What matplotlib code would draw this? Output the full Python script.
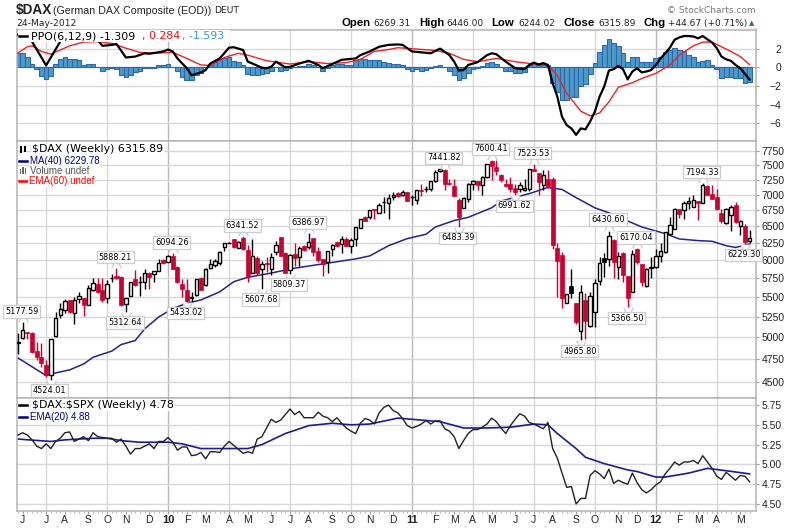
import matplotlib
matplotlib.use('Agg')
import matplotlib.pyplot as plt
import matplotlib.transforms as mtrans
from matplotlib.patches import Rectangle
from matplotlib.ticker import NullFormatter

# weekly candles
opens = [4935,4990,5060,5050,4840,4775,4680,4570,5012,5275,
         5330,5455,5300,5475,5480,5400,5585,5670,5590,5480,
         5750,5780,5770,5410,5510,5730,5690,5690,5825,5810,
         5850,5995,5975,6060,5905,5670,5590,5480,5520,5750,
         5650,5890,5935,5960,6180,6245,6300,6170,6325,6145,
         5820,6030,5875,5960,5870,6107,6329,6097,5860,6087,
         6039,6205,6180,6318,6132,6010,5965,6160,6265,6230,
         6310,6195,6305,6470,6645,6635,6765,6705,6875,6870,
         6960,7030,6987,7045,6955,6910,7080,7090,7095,7220,
         7395,7425,7195,7135,6905,6785,6930,7185,7225,7160,
         7290,7580,7475,7335,7180,7180,7105,7090,7080,7090,
         7440,7365,7160,7270,7265,6175,6075,5420,5645,5415,
         5080,5460,5135,5310,5705,6030,6015,6295,5905,6100,
         5775,5570,6150,5945,5645,5890,5895,6060,6110,6380,
         6455,6760,6750,6860,6805,6890,6865,7145,7015,6965,
         6695,6545,6665,6835,6505,6505,6269.31]
highs = [5045,5177.59,5065,5060,4940,4935,4735,4980,5305,5420,
         5475,5460,5500,5570,5480,5660,5750,5745,5750,5720,
         5800,5888.21,5775,5490,5700,5860,5780,5870,5830,5850,
         6010,6010,6070,6094.26,5910,5740,5730,5560,5740,5760,
         5890,6010,6010,6125,6245,6260,6310,6280,6341.52,6220,
         6300,6050,5990,6040,6097,6268,6335,6110,6085,6245,
         6195,6215,6386.97,6325,6185,6010,6130,6225,6270,6345,
         6340,6320,6490,6615,6650,6755,6770,6870,6965,7005,
         7040,7040,7075,7050,7000,7075,7170,7145,7230,7420,
         7441.82,7441,7255,7265,6950,6960,7190,7240,7230,7310,
         7530,7600.41,7590,7345,7255,7290,7185,7210,7265,7440,
         7523.53,7370,7410,7420,7300,6240,6120,5540,5870,5420,
         5650,5550,5560,5730,6040,6100,6430.60,6300,6110,6110,
         5780,6140,6170.04,5950,5890,6040,6150,6240,6415,6640,
         6780,6770,6900,6960,6990,6900,7194.33,7160,7160,7100,
         6760,6790,6835,6880,6590,6530,6446.00]
lows = [4810,4975,4980,4820,4735,4660,4555,4524.01,5000,5228,
        5290,5290,5165,5420,5260,5395,5580,5550,5430,5425,
        5690,5730,5385,5312.64,5505,5640,5515,5600,5600,5700,
        5840,5950,5975,5870,5680,5500,5433.02,5433,5510,5585,
        5640,5870,5900,5930,6130,6240,6175,6165,6145,5690,
        5820,5790,5607.68,5830,5792,6073,6050,5820,5809.37,5910,
        5910,6130,6160,6050,5970,5780,5815,6060,6190,6105,
        6200,6095,6205,6465,6580,6610,6615,6705,6695,6605,
        6910,6960,6975,6895,6835,6845,6980,7035,7060,7215,
        7390,7080,7160,6975,6483.39,6785,6875,7070,7075,6990,
        7280,7250,7335,7215,7130,7040,6991.62,7040,7055,7060,
        7395,7000,7080,7110,6155,5500,5360,5420,5490,5165,
        4965.80,4985,5120,5120,5650,5760,5910,5750,5740,5700,
        5366.50,5565,5940,5640,5625,5750,5885,5970,6100,6375,
        6450,6625,6610,6760,6800,6595,6860,6990,6925,6750,
        6545,6525,6430,6550,6370,6229.30,6244.02]
closes = [4945,5085,5050,4830,4770,4705,4570,4975,5228,5340,
          5445,5310,5460,5515,5390,5610,5680,5570,5460,5675,
          5755,5750,5400,5480,5690,5660,5695,5825,5760,5840,
          5960,5955,6050,5880,5690,5600,5445,5500,5730,5590,
          5880,5950,5990,6110,6240,6250,6180,6265,6150,5780,
          6055,5825,5950,5940,6039,6214,6058,5824,6068,6024,
          6170,6137,6259,6112,6000,5945,6127,6220,6205,6305,
          6205,6295,6485,6610,6585,6750,6745,6835,6880,6950,
          6998,6975,7045,6900,6960,7070,7065,7095,7225,7380,
          7430,7185,7180,6975,6645,6950,7185,7220,7160,7290,
          7520,7490,7395,7250,7145,7085,7050,7160,7115,7430,
          7400,7215,7325,7135,6220,5990,5480,5535,5545,5185,
          5560,5200,5510,5680,5960,5965,6345,5965,6050,5790,
          5490,6082,5975,5690,5880,5905,6050,6135,6405,6515,
          6770,6680,6860,6890,6910,6865,7155,7000,6935,6770,
          6570,6770,6800,6560,6580,6265,6315.89]

ma_weeks = [0,6,8,11,14,16,20,22,25,27,30,33,36,39,43,46,49,53,59,65,72,75,79,83,87,89,93,96,
            101,103,109,113,116,119,123,126,133,138,141,145,148,151,153,156]
ma_values = [4762,4568,4597,4630,4695,4770,4840,4915,4962,5100,5245,5350,5418,5460,5565,5700,5760,5805,
             5885,5945,6015,6058,6205,6310,6375,6485,6585,6635,6785,6895,7015,7120,7085,6950,6785,6705,
             6485,6385,6305,6280,6270,6205,6180,6229.78]

# PPO panel
hist_values = [1.5,1.5,1.15,0.3,-0.2,-0.95,-1.3,-0.9,0.35,0.85,
               1.15,0.9,0.85,0.8,0.25,0.35,0.4,0.0,-0.45,-0.2,
               -0.1,-0.2,-0.8,-1.05,-0.85,-0.55,-0.45,-0.1,-0.1,-0.1,
               0.2,0.25,0.3,0.0,-0.45,-1.0,-1.4,-1.4,-0.8,-0.65,
               0.05,0.2,0.6,0.85,0.95,1.15,0.7,0.6,0.25,-0.7,
               -0.8,-0.85,-0.75,-0.65,-0.35,0.0,-0.45,-0.3,-0.1,0.05,
               0.15,0.15,0.35,0.25,0.05,-0.4,-0.1,0.2,0.3,0.35,
               0.25,0.25,0.8,0.85,0.85,0.8,0.8,0.8,0.55,0.5,
               0.4,0.35,0.25,-0.2,-0.35,-0.2,-0.35,-0.25,-0.1,0.15,
               0.2,0.05,-0.35,-0.8,-1.4,-1.2,-0.65,-0.2,-0.1,0.15,
               0.5,0.55,0.4,0.0,-0.35,-0.45,-0.65,-0.6,-0.55,0.2,
               0.3,0.2,0.25,0.2,-1.65,-2.6,-3.55,-3.55,-3.15,-3.15,
               -2.0,-1.8,-0.7,0.45,1.6,2.4,3.0,2.6,2.3,1.5,
               0.55,1.05,1.05,0.55,0.55,0.55,0.95,1.15,1.6,1.85,
               2.05,1.8,1.7,1.3,1.05,0.55,0.7,0.8,0.25,-0.15,
               -1.2,-1.05,-1.0,-1.2,-1.2,-1.65,-1.593]
ppo_weeks = [0,1,2,3,6,9,10,13,16,17,18,20,21,23,25,27,28,31,32,33,34,36,37,39,40,41,43,45,46,48,49,50,
             52,53,54,55,57,58,60,62,64,65,67,69,70,72,73,75,76,77,79,81,82,83,84,86,88,90,92,93,94,95,96,
             98,100,101,102,104,106,108,109,110,111,112,113,114,115,116,117,118,119,120,121,122,123,124,125,
             126,127,128,129,130,131,132,133,134,135,136,137,138,139,140,141,142,143,144,145,146,147,148,149,
             150,151,152,153,154,155,156]
ppo_values = [3.5,3.5,3.4,2.75,0.2,2.75,3.3,3.6,3.3,2.9,2.3,2.4,2.5,1.05,1.15,1.5,1.45,1.7,1.9,1.7,0.95,-0.1,-0.85,-0.55,-0.3,0.4,
              0.95,2.1,2.15,1.85,0.6,0.4,-0.05,-0.1,0.05,0.6,0.0,0.05,0.4,0.7,0.25,-0.1,0.35,0.8,0.85,0.95,1.3,1.7,1.95,2.2,2.4,2.45,
              2.4,2.05,1.7,1.6,1.5,2.0,1.3,0.6,-0.35,-0.3,0.25,0.55,1.3,1.5,1.4,0.6,-0.1,-0.2,0.25,0.5,0.3,0.45,0.25,
              -1.7,-3.15,-5.3,-6.2,-6.55,-7.25,-6.55,-6.65,-5.8,-4.75,-3.15,-2.05,-0.35,-0.2,0.15,-0.2,-1.3,-0.45,-0.1,-0.55,-0.45,-0.3,
              0.25,0.95,1.5,2.1,2.95,3.2,3.35,3.35,3.3,3.1,3.35,3.0,2.65,2.05,1.15,0.85,0.7,0.25,-0.1,-0.7,-1.309]
signal_weeks = [0,2,3,5,7,9,11,14,17,20,23,26,29,33,36,39,41,44,47,49,53,58,62,66,70,73,76,79,81,85,89,92,95,98,102,
                106,110,113,115,117,120,122,124,126,128,131,133,136,139,141,144,146,148,150,152,154,156]
signal_values = [1.55,2.2,2.3,1.7,1.4,1.85,2.3,2.7,2.75,2.55,2.05,1.6,1.5,1.6,0.95,0.25,0.2,1.05,1.5,1.3,0.7,0.35,0.6,0.4,0.5,
                 0.85,1.7,1.9,2.1,1.95,1.8,1.5,0.85,0.6,0.95,0.6,0.35,0.25,-0.9,-2.8,-4.7,-5.2,-4.9,-3.7,-2.15,-1.65,-1.2,-0.65,
                 0.25,1.3,2.3,2.7,2.7,2.2,1.7,1.15,0.284]

# $DAX:$SPX panel
ratio_values = [5.37,5.40,5.37,5.31,5.23,5.20,5.26,5.20,5.29,5.33,5.40,5.41,5.29,5.32,5.35,5.30,5.40,5.35,5.34,5.33,
                5.33,5.28,5.32,5.23,5.13,5.20,5.20,5.23,5.26,5.20,5.29,5.29,5.34,5.28,5.18,5.22,5.22,5.11,5.12,5.15,
                5.07,5.16,5.16,5.15,5.23,5.29,5.24,5.19,5.14,5.16,5.14,5.32,5.35,5.46,5.57,5.53,5.56,5.63,5.70,5.63,
                5.67,5.59,5.59,5.59,5.66,5.61,5.59,5.54,5.59,5.52,5.46,5.42,5.39,5.52,5.58,5.56,5.51,5.65,5.72,5.75,
                5.68,5.65,5.58,5.49,5.46,5.48,5.51,5.555,5.51,5.55,5.55,5.45,5.42,5.35,5.20,5.30,5.39,5.44,5.44,5.47,
                5.51,5.585,5.54,5.46,5.39,5.49,5.57,5.64,5.61,5.53,5.51,5.48,5.45,5.53,5.20,5.08,4.89,4.71,4.72,4.50,
                4.57,4.57,4.86,4.92,4.88,4.82,4.94,4.76,4.80,4.77,4.75,4.89,4.77,4.68,4.64,4.68,4.74,4.78,4.88,4.95,
                5.03,4.99,5.03,5.03,5.05,5.01,5.11,5.03,4.95,4.85,4.81,4.90,4.85,4.80,4.86,4.85,4.78]
ratio_ema_weeks = [0,7,10,16,19,22,26,32,35,39,43,49,52,57,62,67,71,75,81,84,90,95,100,105,110,113,115,119,121,125,130,132,136,138,143,147,151,156]
ratio_ema_values = [5.32,5.29,5.31,5.33,5.33,5.30,5.28,5.28,5.26,5.20,5.20,5.20,5.25,5.39,5.49,5.52,5.50,5.51,5.585,5.57,5.54,5.46,
                    5.46,5.47,5.51,5.50,5.39,5.20,5.09,5.01,4.93,4.91,4.84,4.84,4.89,4.95,4.92,4.88]

# high/low call-outs on the price panel
label_weeks = [1,7,21,23,33,36,48,52,58,62,91,94,101,106,110,120,126,130,132,146,155]
label_prices = [5177.59,4524.01,5888.21,5312.64,6094.26,5433.02,6341.52,5607.68,5809.37,6386.97,7441.82,6483.39,
                7600.41,6991.62,7523.53,4965.80,6430.60,5366.50,6170.04,7194.33,6229.30]
label_above = [True,False,True,False,True,False,True,False,False,True,True,False,True,False,True,False,True,False,True,True,False]

# axes ticks
price_ticks = [4500,4750,5000,5250,5500,5750,6000,6250,6500,6750,7000,7250,7500,7750]
ppo_ticks = [-6,-4,-2,0,2]
ratio_ticks = [4.50,4.75,5.00,5.25,5.50,5.75]
grid_weeks = [6,19,32,45,58,71,84,97,110,123,136,149]
year_weeks = [32,84,136]
month_weeks = [1,6,10,15,19,23,28,32,36,40,45,49,54,58,62,67,71,75,80,84,89,93,97,101,106,110,114,119,123,128,132,136,141,145,149,154]
month_labels = ['J','J','A','S','O','N','D','10','F','M','A','M','J','J','A','S','O','N','D','11','F','M','A','M','J','J','A','S','O','N','D','12','F','M','A','M']

W, H = 800, 528
RED = '#cc0033'
GRID = '#d8d8d8'
DARK = '#222222'
SANS = 'Liberation Sans'

fig = plt.figure(figsize=(W / 100, H / 100), dpi=100)


def add_panel(top, bottom):
    left, right = 16.5, 756
    return fig.add_axes([left / W, 1 - bottom / H, (right - left) / W, (bottom - top) / H])


def put(x, y, s, **kw):
    # place text with chart pixels
    kw.setdefault('va', 'center')
    kw.setdefault('color', DARK)
    fig.text(x / W, 1 - y / H, s, **kw)


def legend_text(x, y, s, **kw):
    # legend lines sit on a white strip, gridlines do not run through them
    put(x, y, s, bbox=dict(fc='white', ec='none', pad=0.4), **kw)


ax_ppo = add_panel(29.5, 141)
ax_px = add_panel(141, 398)
ax_ratio = add_panel(398, 511)
weeks = list(range(len(closes)))

for ax in (ax_ppo, ax_px, ax_ratio):
    ax.set_xlim(-0.32, 157.36)
    ax.set_axisbelow(True)
    ax.yaxis.tick_right()
    ax.grid(axis='y', color=GRID, lw=1)
    for w in grid_weeks:
        ax.axvline(w, color='#b8b8b8' if w in year_weeks else GRID, lw=1, zorder=0.5)
    for side in ax.spines.values():
        side.set_color('#b4b4b4')
        side.set_linewidth(1.1)
    ax.tick_params(axis='y', right=True, length=2, color='#999999', labelsize=7.5, labelcolor=DARK, pad=2)
    ax.tick_params(axis='x', bottom=False, labelbottom=False)

# PPO panel
ax_ppo.set_ylim(-7.9, 4.05)
ax_ppo.bar(weeks, hist_values, width=1.0, color='#4f98c9', edgecolor='#2a6aa8', linewidth=0.8, zorder=2)
ax_ppo.plot(signal_weeks, signal_values, color='#ee2222', lw=1.0, zorder=3)
ax_ppo.plot(ppo_weeks, ppo_values, color='black', lw=1.6, zorder=4)
ax_ppo.axhline(0, color='#b0b0b0', lw=0.8, zorder=1)
ax_ppo.set_yticks(ppo_ticks)
for lab in ax_ppo.get_yticklabels():
    lab.set_ha('right')
    lab.set_fontfamily(SANS)
ax_ppo.tick_params(axis='y', pad=16)
# legend strip hides the lines behind it
ax_ppo.add_patch(Rectangle((0.002, 1 - 12.5 / 111.5), 212 / 739.5, 12 / 111.5, transform=ax_ppo.transAxes,
                           fc='white', ec='none', zorder=5))

# price panel
ax_px.set_yscale('log')
ax_px.set_ylim(4333, 7943)
ax_px.set_yticks(price_ticks)
ax_px.set_yticklabels([str(p) for p in price_ticks], fontfamily=SANS)
ax_px.minorticks_off()
ax_px.yaxis.set_minor_formatter(NullFormatter())
ax_px.plot(ma_weeks, ma_values, color='#23238e', lw=1.1, zorder=2)
for i in weeks:
    o, h, l, c = opens[i], highs[i], lows[i], closes[i]
    if c >= o:
        ax_px.vlines(i, l, h, color='black', lw=1.0, zorder=3)
        ax_px.bar(i, c - o, bottom=o, width=0.72, color='white', edgecolor='black', linewidth=1.0, zorder=4)
    else:
        col = RED if i == 0 or c < closes[i - 1] else 'black'
        ax_px.vlines(i, l, h, color=col, lw=1.0, zorder=3)
        ax_px.bar(i, o - c, bottom=c, width=0.86, color=col, edgecolor=col, linewidth=0.5, zorder=4)

for w, p, up in zip(label_weeks, label_prices, label_above):
    sign = 1 if up else -1
    tip = mtrans.offset_copy(ax_px.transData, fig=fig, x=0, y=sign * 5, units='dots')
    verts = [(-1, -sign), (0, sign), (1, -sign)]
    ax_px.plot([w], [p], transform=tip, marker=verts, ms=7, mfc='white', mec='#cccccc', mew=0.9, zorder=6, clip_on=False)
    ax_px.annotate(f'{p:.2f}', xy=(w, p), xytext=(-0.7, sign * 7.8), textcoords='offset points', ha='center',
                   va='center', fontsize=5.9, color='black', zorder=7, annotation_clip=False,
                   bbox=dict(boxstyle='square,pad=0.22', fc='white', ec='#cccccc', lw=0.9))

# ratio panel
ax_ratio.set_ylim(4.411, 5.839)
ax_ratio.plot(ratio_ema_weeks, ratio_ema_values, color='#1c1c96', lw=1.2, zorder=2)
ax_ratio.plot(weeks, ratio_values, color='#222222', lw=1.0, zorder=3)
ax_ratio.set_yticks(ratio_ticks)
ax_ratio.set_yticklabels([f'{v:.2f}' for v in ratio_ticks], fontfamily=SANS)
ax_ratio.set_xticks(month_weeks, month_labels)
ax_ratio.set_xticks(weeks, minor=True)
ax_ratio.tick_params(axis='x', which='major', bottom=True, labelbottom=True, length=2, color='#999999',
                     labelsize=7.5, labelcolor=DARK, pad=1)
ax_ratio.tick_params(axis='x', which='minor', bottom=True, length=1.5, color='#aaaaaa')
for lab in ax_ratio.get_xticklabels():
    lab.set_fontfamily(SANS)
    if lab.get_text() in ('10', '11', '12'):
        lab.set_fontweight('bold')
        lab.set_fontsize(8)

# header
put(16, 10, r'\$DAX', fontfamily=SANS, fontweight='bold', fontsize=9.8, color='#222222')
put(53, 10.5, '(German DAX Composite (EOD))', fontfamily=SANS, fontsize=7.7)
put(214, 10.5, 'DEUT', fontsize=6.6)
put(16, 23.5, '24-May-2012', fontsize=6.6)
put(667, 10.5, '\u00a9 StockCharts.com', fontsize=6.5, color='#777777')
for x, s, bold in [(342, 'Open', True), (373, '6269.31', False), (419, 'High', True), (446, '6446.00', False),
                   (491, 'Low', True), (518, '6244.02', False), (563, 'Close', True), (598, '6315.89', False),
                   (643, 'Chg', True), (668, '+44.67 (+0.71%)', False)]:
    if bold:
        put(x, 23.5, s, fontfamily=SANS, fontweight='bold', fontsize=8.2, color='black')
    else:
        put(x, 23.5, s, fontsize=6.5)
put(749, 23.5, '\u25b2', fontsize=5, color='#2e7d32')

# panel legends
fig.add_artist(plt.Line2D([19 / W, 27 / W], [1 - 36 / H, 1 - 36 / H], color='black', lw=1.8))
put(31, 36.5, 'PPO(6,12,9) -1.309', fontsize=7.9, color='black')
put(142, 36.5, ', 0.284', fontsize=7.9, color='#ee1111')
put(182, 36.5, ', -1.593', fontsize=7.9, color='#3399cc')

legend_text(32, 149.5, r'\$DAX (Weekly) 6315.89', fontsize=7.9, color='black')
fig.add_artist(Rectangle((20 / W, 1 - 153 / H), 2 / W, 7 / H, transform=fig.transFigure, fc='black', ec='none'))
fig.add_artist(Rectangle((24 / W, 1 - 152 / H), 2 / W, 6 / H, transform=fig.transFigure, fc='black', ec='none'))
fig.add_artist(plt.Line2D([19 / W, 27 / W], [1 - 160.5 / H, 1 - 160.5 / H], color='navy', lw=1.8))
legend_text(30, 161, 'MA(40) 6229.78', fontsize=7, fontfamily=SANS, color='navy')
for bx, bh in zip([19.5, 22, 24.5], [5, 7, 6]):
    fig.add_artist(Rectangle((bx / W, 1 - 174 / H), 1.8 / W, bh / H, transform=fig.transFigure, fc='#666666', ec='none'))
legend_text(30, 171, 'Volume undef', fontsize=7, fontfamily=SANS, color='#555555')
fig.add_artist(plt.Line2D([19 / W, 27 / W], [1 - 180.5 / H, 1 - 180.5 / H], color='red', lw=1.8))
legend_text(29, 181, 'EMA(60) undef', fontsize=7, fontfamily=SANS, color='red')

fig.add_artist(plt.Line2D([19 / W, 27 / W], [1 - 405 / H, 1 - 405 / H], color='black', lw=1.8))
legend_text(32, 405.5, r'\$DAX:\$SPX (Weekly) 4.78', fontsize=7.9, color='black')
fig.add_artist(plt.Line2D([19 / W, 27 / W], [1 - 416.5 / H, 1 - 416.5 / H], color='navy', lw=1.8))
legend_text(30, 417, 'EMA(20) 4.88', fontsize=7, fontfamily=SANS, color='navy')

fig.savefig('out.png', dpi=100, facecolor='white')
